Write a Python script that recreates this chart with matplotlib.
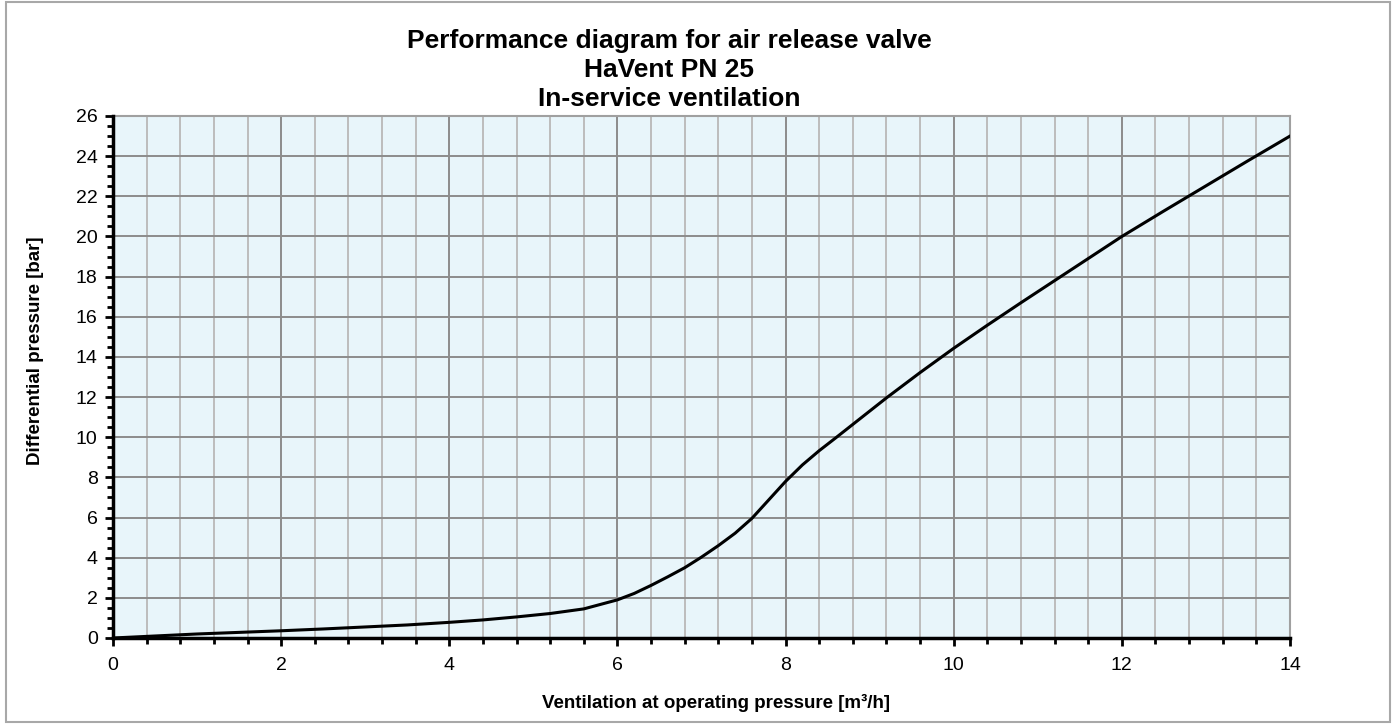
import matplotlib
matplotlib.use('Agg')
import matplotlib.pyplot as plt
from matplotlib.patches import Rectangle
from matplotlib.ticker import MultipleLocator

# Kennlinie
flow = [0, 0.5, 1, 1.5, 2, 2.5, 3, 3.5, 4, 4.4, 4.8, 5.2, 5.6, 6.0, 6.2, 6.4,
        6.6, 6.8, 7.0, 7.2, 7.4, 7.6, 7.8, 8.0, 8.2, 8.4, 8.6, 8.8, 9.2, 9.6,
        10, 10.4, 10.8, 11.2, 11.6, 12, 12.5, 13, 13.5, 14]
dp = [0, 0.1, 0.2, 0.28, 0.36, 0.45, 0.55, 0.65, 0.78, 0.9, 1.05, 1.22, 1.45,
      1.9, 2.22, 2.62, 3.05, 3.5, 4.03, 4.6, 5.22, 5.96, 6.88, 7.8, 8.62,
      9.33, 9.98, 10.64, 11.96, 13.22, 14.43, 15.58, 16.7, 17.8, 18.9, 20.0,
      21.27, 22.52, 23.77, 25.0]

title_lines = ['Performance diagram for air release valve', 'HaVent PN 25',
               'In-service ventilation']
xlab = 'Ventilation at operating pressure [m³/h]'
ylab = 'Differential pressure [bar]'

plt.rcParams['font.family'] = ['Liberation Sans', 'DejaVu Sans']

fig = plt.figure(figsize=(13.97, 7.25), dpi=100)
ax = fig.add_axes([113/1397, 87/725, (1290-113)/1397, (638-116)/725])
ax.set_facecolor('#e8f5fa')

ax.set_xlim(0, 14)
ax.set_ylim(0, 26)
ax.xaxis.set_major_locator(MultipleLocator(2))
ax.xaxis.set_minor_locator(MultipleLocator(0.4))
ax.yaxis.set_major_locator(MultipleLocator(2))
ax.yaxis.set_minor_locator(MultipleLocator(0.5))

ax.grid(which='major', axis='both', color='#8c8c8c', lw=1.4)
ax.grid(which='minor', axis='x', color='#bcbcbc', lw=1.4)
ax.set_axisbelow(True)

ax.plot(flow, dp, color='black', lw=2.2, zorder=3)

ax.tick_params(which='major', length=6, width=2, labelsize=14)
ax.tick_params(axis='x', which='major', pad=8)
ax.tick_params(axis='y', which='major', pad=5)
ax.tick_params(which='minor', length=4, width=2)
for s in ['left', 'bottom']:
    ax.spines[s].set_linewidth(2.5)
    ax.spines[s].set_color('black')
for s in ['top', 'right']:
    ax.spines[s].set_linewidth(1.5)
    ax.spines[s].set_color('#a0a0a0')
ax.spines['left'].set_zorder(5)
ax.spines['bottom'].set_zorder(5)

fig.text(669/1397, 1 - 70/725, '\n'.join(title_lines), ha='center', va='center',
         fontsize=19, fontweight='bold', linespacing=1.25)
fig.text(716/1397, 1 - 703/725, xlab, ha='center', va='center',
         fontsize=13.5, fontweight='bold')
fig.text(36/1397, 1 - 351/725, ylab, ha='center', va='center', rotation=90,
         fontsize=13.5, fontweight='bold')

fig.patches.append(Rectangle((6/1397, 3/725), 1384/1397, 720/725,
                             transform=fig.transFigure, fill=False,
                             edgecolor='#a8a8a8', lw=1.5))

plt.savefig('out.png', dpi=100)
